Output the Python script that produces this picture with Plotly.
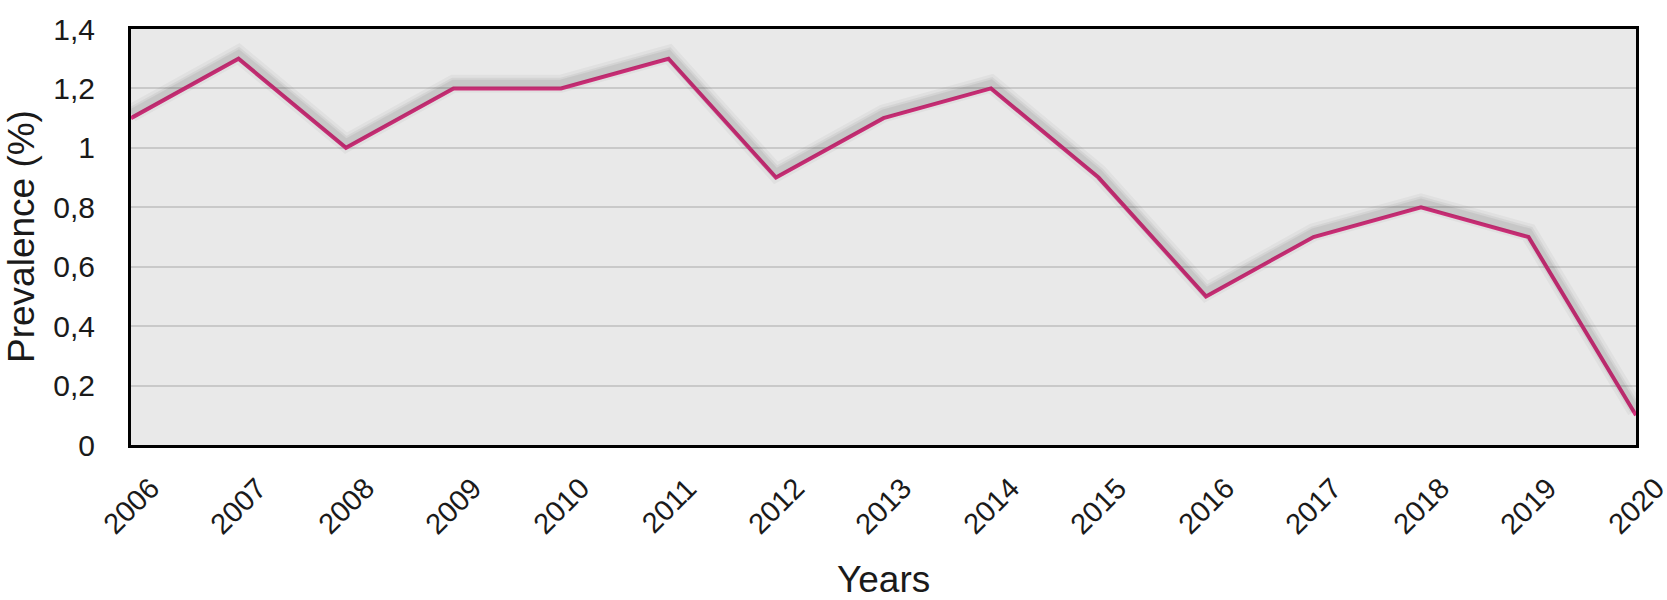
import plotly.graph_objects as go

years = [2006, 2007, 2008, 2009, 2010, 2011, 2012, 2013, 2014, 2015, 2016, 2017, 2018, 2019, 2020]
prevalence = [1.1, 1.3, 1.0, 1.2, 1.2, 1.3, 0.9, 1.1, 1.2, 0.9, 0.5, 0.7, 0.8, 0.7, 0.1]
y_tick_vals = [0, 0.2, 0.4, 0.6, 0.8, 1.0, 1.2, 1.4]
y_tick_text = ["0", "0,2", "0,4", "0,6", "0,8", "1", "1,2", "1,4"]
x_title = "Years"
y_title = "Prevalence (%)"

FONT = "Liberation Sans, Arial, Helvetica, sans-serif"
LINE_COLOR = "#D8327F"

fig = go.Figure()

# soft drop shadow under the line (drawn on an overlaid, slightly shifted axis)
for w, a in [(18, 0.035), (12, 0.05), (8, 0.06)]:
    fig.add_trace(go.Scatter(
        x=years, y=prevalence, mode="lines", yaxis="y2",
        line=dict(color=f"rgba(0,0,0,{a})", width=w),
        hoverinfo="skip", showlegend=False,
    ))

fig.add_trace(go.Scatter(
    x=years, y=prevalence, mode="lines",
    line=dict(color=LINE_COLOR, width=4),
    showlegend=False,
))

# centered, rotated year labels
for yr in years:
    fig.add_annotation(
        x=yr, xref="x", y=0, yref="paper", yshift=-61,
        text=str(yr), textangle=-45, showarrow=False,
        xanchor="center", yanchor="middle",
        font=dict(family=FONT, size=29, color="#1a1a1a"),
    )

fig.add_annotation(
    x=0.5, xref="paper", y=0, yref="paper", yshift=-134,
    text=x_title, showarrow=False, xanchor="center", yanchor="middle",
    font=dict(family=FONT, size=37, color="#1a1a1a"),
)
fig.add_annotation(
    x=0, xref="paper", xshift=-110, y=0.5, yref="paper",
    text=y_title, textangle=-90, showarrow=False,
    xanchor="center", yanchor="middle",
    font=dict(family=FONT, size=37, color="#1a1a1a"),
)

fig.update_layout(
    width=1667, height=600,
    margin=dict(l=131, r=31, t=12, b=155),
    paper_bgcolor="white",
    plot_bgcolor="#E9E9E9",
    font=dict(family=FONT, color="#1a1a1a"),
    xaxis=dict(
        range=[years[0], years[-1]],
        tickvals=years, showticklabels=False, ticks="",
        showgrid=False, zeroline=False,
        showline=True, linecolor="black", linewidth=3, mirror=True,
    ),
    yaxis=dict(
        range=[0, 1.4],
        tickvals=y_tick_vals, ticktext=y_tick_text,
        tickfont=dict(family=FONT, size=30, color="#1a1a1a"),
        ticks="", ticklabelstandoff=27, ticklabeloverflow="allow",
        showgrid=True, gridcolor="#C9C9C9", gridwidth=2,
        zeroline=False,
        showline=True, linecolor="black", linewidth=3, mirror=True,
    ),
    yaxis2=dict(
        range=[-0.016, 1.384], overlaying="y", visible=False,
    ),
)

fig.write_html(
    "out.html",
    config={"displayModeBar": False},
    post_script="document.body.style.margin='0';document.body.style.overflow='hidden';",
)
